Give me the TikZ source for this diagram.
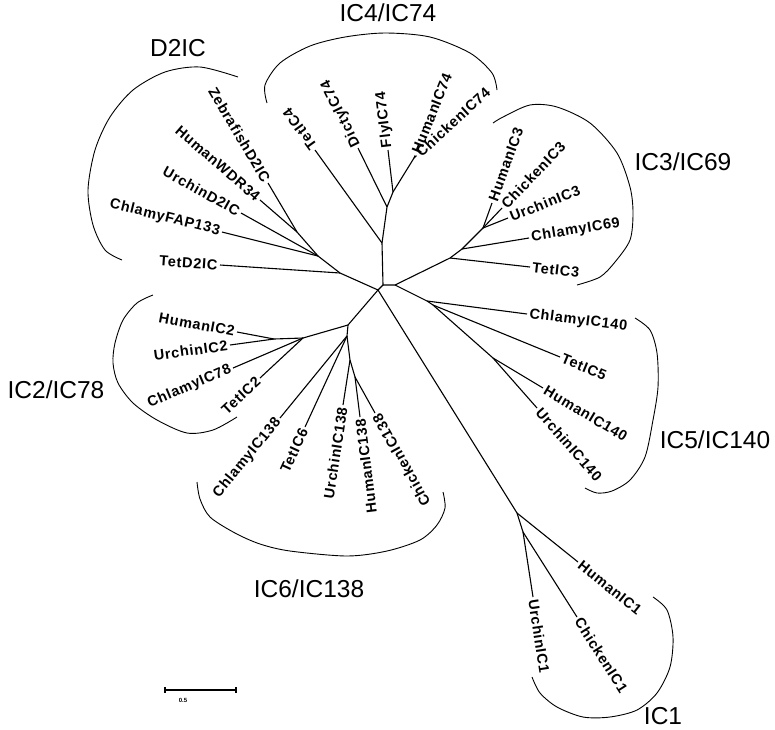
\documentclass[tikz,border=0pt]{standalone}
\usepackage{fontspec}
\newfontfamily\treefont[LetterSpace=5]{Liberation Sans}
\newfontfamily\groupfont{Liberation Sans}
\usetikzlibrary{calc}

\tikzset{
  branch/.style={line width=1.1pt},
  bracket/.style={line width=0.9pt},
  taxon/.style={font=\treefont\bfseries\fontsize{14.5}{16}\selectfont, inner sep=2pt},
  clade/.style={font=\groupfont\fontsize{24.5}{28}\selectfont, inner sep=0pt}
}
% parent, leaf, text, anchor, turn
\newcommand{\taxonleaf}[5]{%
  \draw[branch] let \p1=($(#2)-(#1)$), \n1={atan2(\y1,\x1)+#5} in
    (#1) -- (#2) node[taxon, rotate=\n1, anchor=#4] (t#2) {#3};}

\begin{document}
\begin{tikzpicture}[x=1pt,y=-1pt]
	\useasboundingbox (0,0) rectangle (775,729);
	
	% inner nodes
	\coordinate (a) at (378,290);
	\coordinate (b) at (383,285);
	\coordinate (c) at (395,285);
	\coordinate (d2a) at (340,273);
	\coordinate (d2b) at (318,256);
	\coordinate (d2c) at (297,232);
	\coordinate (c74a) at (382,243);
	\coordinate (c74b) at (387,207);
	\coordinate (c74c) at (393,192);
	\coordinate (c74d) at (414,158);
	\coordinate (c3a) at (450,258);
	\coordinate (c3b) at (462,249);
	\coordinate (c3c) at (483,228);
	\coordinate (c5a) at (427,301);
	\coordinate (c5b) at (433,305);
	\coordinate (c5c) at (493,358);
	\coordinate (c1a) at (517,513);
	\coordinate (c1b) at (523,532);
	\coordinate (c26) at (348,325);
	\coordinate (c2a) at (303,338);
	\coordinate (c2b) at (274,339);
	\coordinate (c6a) at (347,336);
	\coordinate (c6b) at (350,360);
	\coordinate (c6c) at (355,377);
	
	% leaves
	\coordinate (tetd2ic) at (220,265);
	\coordinate (chlfap) at (222,232);
	\coordinate (urcd2ic) at (241,213);
	\coordinate (humwdr) at (260,200);
	\coordinate (zebd2ic) at (268,183);
	\coordinate (tet4) at (315,150);
	\coordinate (dic74) at (358,148);
	\coordinate (fly74) at (388,150);
	\coordinate (hum74) at (415,155.5);
	\coordinate (chk74) at (416.5,155.7);
	\coordinate (hum3) at (492,203);
	\coordinate (chk3) at (502,208);
	\coordinate (urc3) at (508,218);
	\coordinate (chl69) at (529,238);
	\coordinate (tet3) at (530,267);
	\coordinate (chl140) at (527,314);
	\coordinate (tet5) at (560,357);
	\coordinate (hum140) at (543,388);
	\coordinate (urc140) at (537,408);
	\coordinate (hum1) at (578,562);
	\coordinate (chk1) at (577,617);
	\coordinate (urc1) at (533,597);
	\coordinate (hum2) at (237,332);
	\coordinate (urc2) at (230,345);
	\coordinate (chl78) at (233,368);
	\coordinate (tet2) at (260,378);
	\coordinate (chl138) at (280,418);
	\coordinate (tet6) at (305,427);
	\coordinate (urc138) at (343,405);
	\coordinate (hum138) at (360,417);
	\coordinate (chk138) at (375,413);
	
	% inner branches
	\draw[branch] (d2c) -- (d2b) -- (d2a) -- (a) -- (b) -- (c74a) -- (c74b) -- (c74c) -- (c74d);
	\draw[branch] (b) -- (c) -- (c3a) -- (c3b) -- (c3c);
	\draw[branch] (c) -- (c5a) -- (c5b) -- (c5c);
	\draw[branch] (a) -- (c1a) -- (c1b);
	\draw[branch] (a) -- (c26) -- (c2a) -- (c2b);
	\draw[branch] (c26) -- (c6a) -- (c6b) -- (c6c);
	
	% terminal branches
	\taxonleaf{d2a}{tetd2ic}{TetD2IC}{east}{180}
	\taxonleaf{d2b}{chlfap}{ChlamyFAP133}{east}{180}
	\taxonleaf{d2b}{urcd2ic}{UrchinD2IC}{east}{180}
	\taxonleaf{d2c}{humwdr}{HumanWDR34}{east}{180}
	\taxonleaf{d2c}{zebd2ic}{ZebrafishD2IC}{east}{180}
	\taxonleaf{c74a}{tet4}{TetIC4}{west}{0}
	\taxonleaf{c74b}{dic74}{DictyIC74}{west}{0}
	\taxonleaf{c74c}{fly74}{FlyIC74}{west}{0}
	\taxonleaf{c74d}{hum74}{HumanIC74}{west}{0}
	\taxonleaf{c74d}{chk74}{ChickenIC74}{west}{0}
	\taxonleaf{c3c}{hum3}{HumanIC3}{west}{0}
	\taxonleaf{c3c}{chk3}{ChickenIC3}{west}{0}
	\taxonleaf{c3c}{urc3}{UrchinIC3}{west}{0}
	\taxonleaf{c3b}{chl69}{ChlamyIC69}{west}{0}
	\taxonleaf{c3a}{tet3}{TetIC3}{west}{0}
	\taxonleaf{c5a}{chl140}{ChlamyIC140}{west}{0}
	\taxonleaf{c5b}{tet5}{TetIC5}{west}{0}
	\taxonleaf{c5c}{hum140}{HumanIC140}{west}{0}
	\taxonleaf{c5c}{urc140}{UrchinIC140}{west}{0}
	\taxonleaf{c1a}{hum1}{HumanIC1}{west}{0}
	\taxonleaf{c1b}{chk1}{ChickenIC1}{west}{0}
	\taxonleaf{c1b}{urc1}{UrchinIC1}{west}{0}
	\taxonleaf{c2b}{hum2}{HumanIC2}{east}{180}
	\taxonleaf{c2b}{urc2}{UrchinIC2}{east}{180}
	\taxonleaf{c2a}{chl78}{ChlamyIC78}{east}{180}
	\taxonleaf{c2a}{tet2}{TetIC2}{east}{180}
	\taxonleaf{c6a}{chl138}{ChlamyIC138}{east}{180}
	\taxonleaf{c6a}{tet6}{TetIC6}{east}{180}
	\taxonleaf{c6b}{urc138}{UrchinIC138}{east}{180}
	\taxonleaf{c6c}{hum138}{HumanIC138}{east}{180}
	\taxonleaf{c6c}{chk138}{ChickenIC138}{east}{180}
	
	% brackets
	\draw[bracket] plot[smooth] coordinates {(238,77) (200,67) (165,72) (133,90) (110,117) (95,150) (88,190) (93,225) (105,250) (122,260)};
	\draw[bracket] plot[smooth] coordinates {(267,103) (265,85) (280,63) (310,46) (345,37) (385,33) (430,37) (470,53) (492,73) (497,90)};
	\draw[bracket] plot[smooth] coordinates {(493,123) (503,117) (530,105) (557,107) (590,123) (617,153) (630,187) (633,213) (630,240) (615,262) (600,277) (577,285)};
	\draw[bracket] plot[smooth] coordinates {(635,318) (650,330) (657,353) (658,387) (653,420) (645,457) (630,480) (612,491) (597,493) (585,488)};
	\draw[bracket] plot[smooth] coordinates {(653,597) (667,610) (673,637) (670,667) (657,693) (637,710) (610,717) (583,717) (557,707) (540,693) (532,677)};
	\draw[bracket] plot[smooth] coordinates {(197,482) (200,499) (210,517) (235,533) (260,544) (290,551) (347,556) (387,551) (420,540) (437,525) (445,508) (443,492)};
	\draw[bracket] plot[smooth] coordinates {(153,295) (137,303) (123,320) (115,343) (113,363) (118,383) (133,403) (157,420) (187,433) (213,430) (237,417)};
	
	% clade names
	\node[clade] (nd2ic) at (178,48) {D2IC};
	\node[clade] (nic74) at (388,13) {IC4/IC74};
	\node[clade] (nic69) at (683,162) {IC3/IC69};
	\node[clade] (nic140) at (715,440) {IC5/IC140};
	\node[clade] (nic78) at (56,390) {IC2/IC78};
	\node[clade] (nic138) at (309,589) {IC6/IC138};
	\node[clade] (nic1) at (663,716) {IC1};
	
	% scale bar
	\coordinate (bar0) at (165,690);
	\coordinate (bar1) at (236,690);
	\draw[branch] (bar0) -- (bar1);
	\draw[branch] ($(bar0)+(0,-3)$) -- ($(bar0)+(0,3)$);
	\draw[branch] ($(bar1)+(0,-3)$) -- ($(bar1)+(0,3)$);
	\node[font=\groupfont\bfseries\fontsize{6}{7}\selectfont, inner sep=0pt] (barlbl) at (183,700) {0.5};
	
\end{tikzpicture}
\end{document}
